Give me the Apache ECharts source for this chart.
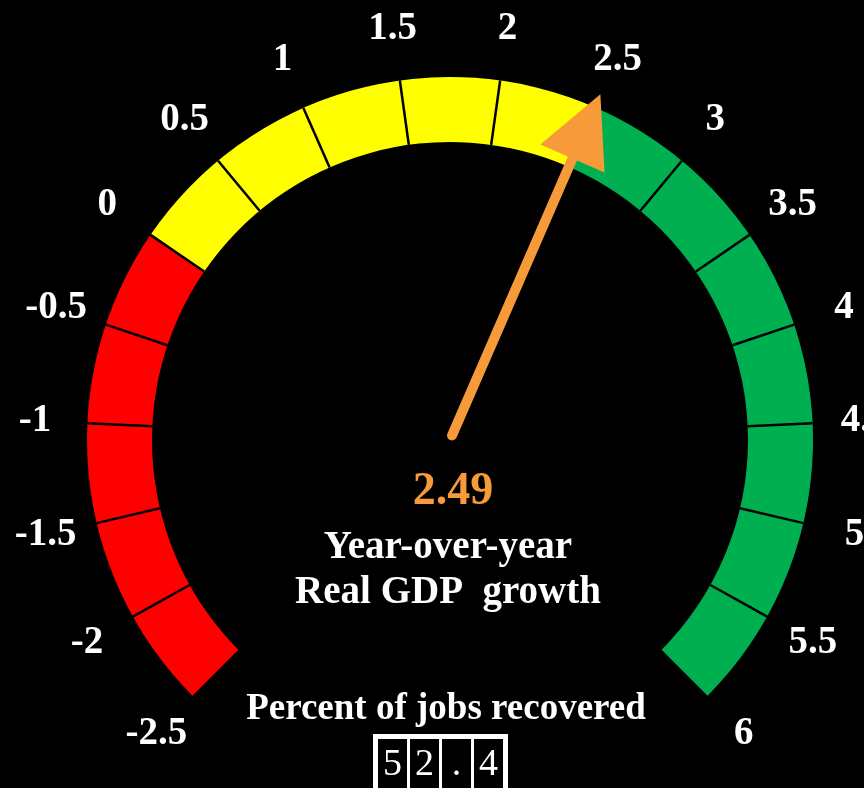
<!DOCTYPE html>
<html>
<head>
<meta charset="utf-8">
<script src="https://cdn.jsdelivr.net/npm/echarts@6/dist/echarts.min.js"></script>
<style>
  html, body { margin: 0; padding: 0; background: #000; }
  #chart { width: 864px; height: 788px; }
</style>
</head>
<body>
<div id="chart"></div>
<script>
// gauge scale
let gaugeMin = -2.5;
let gaugeMax = 6;
let tickStep = 0.5;
let tickLabels = ['-2.5', '-2', '-1.5', '-1', '-0.5', '0', '0.5', '1', '1.5', '2',
    '2.5', '3', '3.5', '4', '4.5', '5', '5.5', '6'];

// colour bands: upper end of each band
let bandEnds = [0, 2.5, 6];
let bandColors = ['#FF0000', '#FFFF00', '#00B050'];

// values
let gdpGrowth = 2.49;
let gdpName = 'Year-over-year\nReal GDP  growth';
let jobsLabel = 'Percent of jobs recovered';
let jobsRecovered = '52.4';

let serif = '"Liberation Serif", "DejaVu Serif", serif';
let orange = '#F79A3A';
let center = [450, 440];

let chart = echarts.init(document.getElementById('chart'));

let stops = bandEnds.map(function (end, i) {
    return [(end - gaugeMin) / (gaugeMax - gaugeMin), bandColors[i]];
});

// boxed digit counter under the gauge
let cellW = 29, gap = 3, border = 5, boxX = 373, boxY = 734;
let chars = jobsRecovered.split('');
let boxW = border * 2 + chars.length * cellW + (chars.length - 1) * gap;
let counter = [{
    type: 'rect',
    left: boxX, top: boxY,
    shape: { width: boxW, height: 70 },
    style: { fill: '#fff' }
}];
chars.forEach(function (ch, i) {
    let x = boxX + border + i * (cellW + gap);
    counter.push({
        type: 'rect',
        left: x, top: boxY + border,
        shape: { width: cellW, height: 70 },
        style: { fill: '#000' }
    });
    counter.push({
        type: 'text',
        x: x + cellW / 2, y: 765,
        style: {
            text: ch, fill: '#fff', font: '38px ' + serif,
            textAlign: 'center', textVerticalAlign: 'middle'
        }
    });
});

chart.setOption({
    backgroundColor: '#000',
    animation: false,
    graphic: [{
        type: 'text',
        x: 446, y: 709,
        style: {
            text: jobsLabel, fill: '#fff', font: 'bold 37px ' + serif,
            textAlign: 'center', textVerticalAlign: 'middle'
        }
    }].concat(counter),
    series: [
        {
            // coloured ring, pointer and value
            type: 'gauge',
            center: center,
            radius: 363,
            startAngle: 225,
            endAngle: -45,
            min: gaugeMin,
            max: gaugeMax,
            splitNumber: Math.round((gaugeMax - gaugeMin) / tickStep),
            axisLine: { lineStyle: { width: 65, color: stops } },
            splitLine: { distance: -65, length: 65, lineStyle: { color: '#000', width: 2.5 } },
            axisTick: { show: false },
            axisLabel: { show: false },
            anchor: { show: false },
            pointer: {
                icon: 'path://M35 0 L70 70 L40 70 L40 372 A5 5 0 0 1 30 372 L30 70 L0 70 Z',
                width: 70,
                length: 377
            },
            itemStyle: { color: orange },
            title: {
                offsetCenter: [-2, 130],
                color: '#fff',
                fontFamily: serif,
                fontWeight: 'bold',
                fontSize: 39,
                lineHeight: 45
            },
            detail: {
                offsetCenter: [3, 52],
                color: orange,
                fontFamily: serif,
                fontWeight: 'bold',
                fontSize: 46,
                valueAnimation: false,
                formatter: function (v) { return v.toFixed(2); }
            },
            data: [{ value: gdpGrowth, name: gdpName }]
        },
        {
            // tick labels outside the ring
            type: 'gauge',
            center: center,
            radius: 416,
            startAngle: 225,
            endAngle: -45,
            min: gaugeMin,
            max: gaugeMax,
            splitNumber: Math.round((gaugeMax - gaugeMin) / tickStep),
            axisLine: { show: false, lineStyle: { width: 0 } },
            splitLine: { show: false, length: 0, distance: 0 },
            axisTick: { show: false },
            pointer: { show: false },
            anchor: { show: false },
            title: { show: false },
            detail: { show: false },
            axisLabel: {
                distance: 0,
                formatter: function (v) {
                    let i = Math.round((v - gaugeMin) / tickStep);
                    return '{c|' + tickLabels[i] + '}';
                },
                rich: {
                    c: {
                        width: 1, height: 1, lineHeight: 1,
                        align: 'center', verticalAlign: 'middle',
                        color: '#fff', fontFamily: serif,
                        fontWeight: 'bold', fontSize: 39
                    }
                }
            },
            data: [{ value: gdpGrowth }]
        }
    ]
});
</script>
</body>
</html>
